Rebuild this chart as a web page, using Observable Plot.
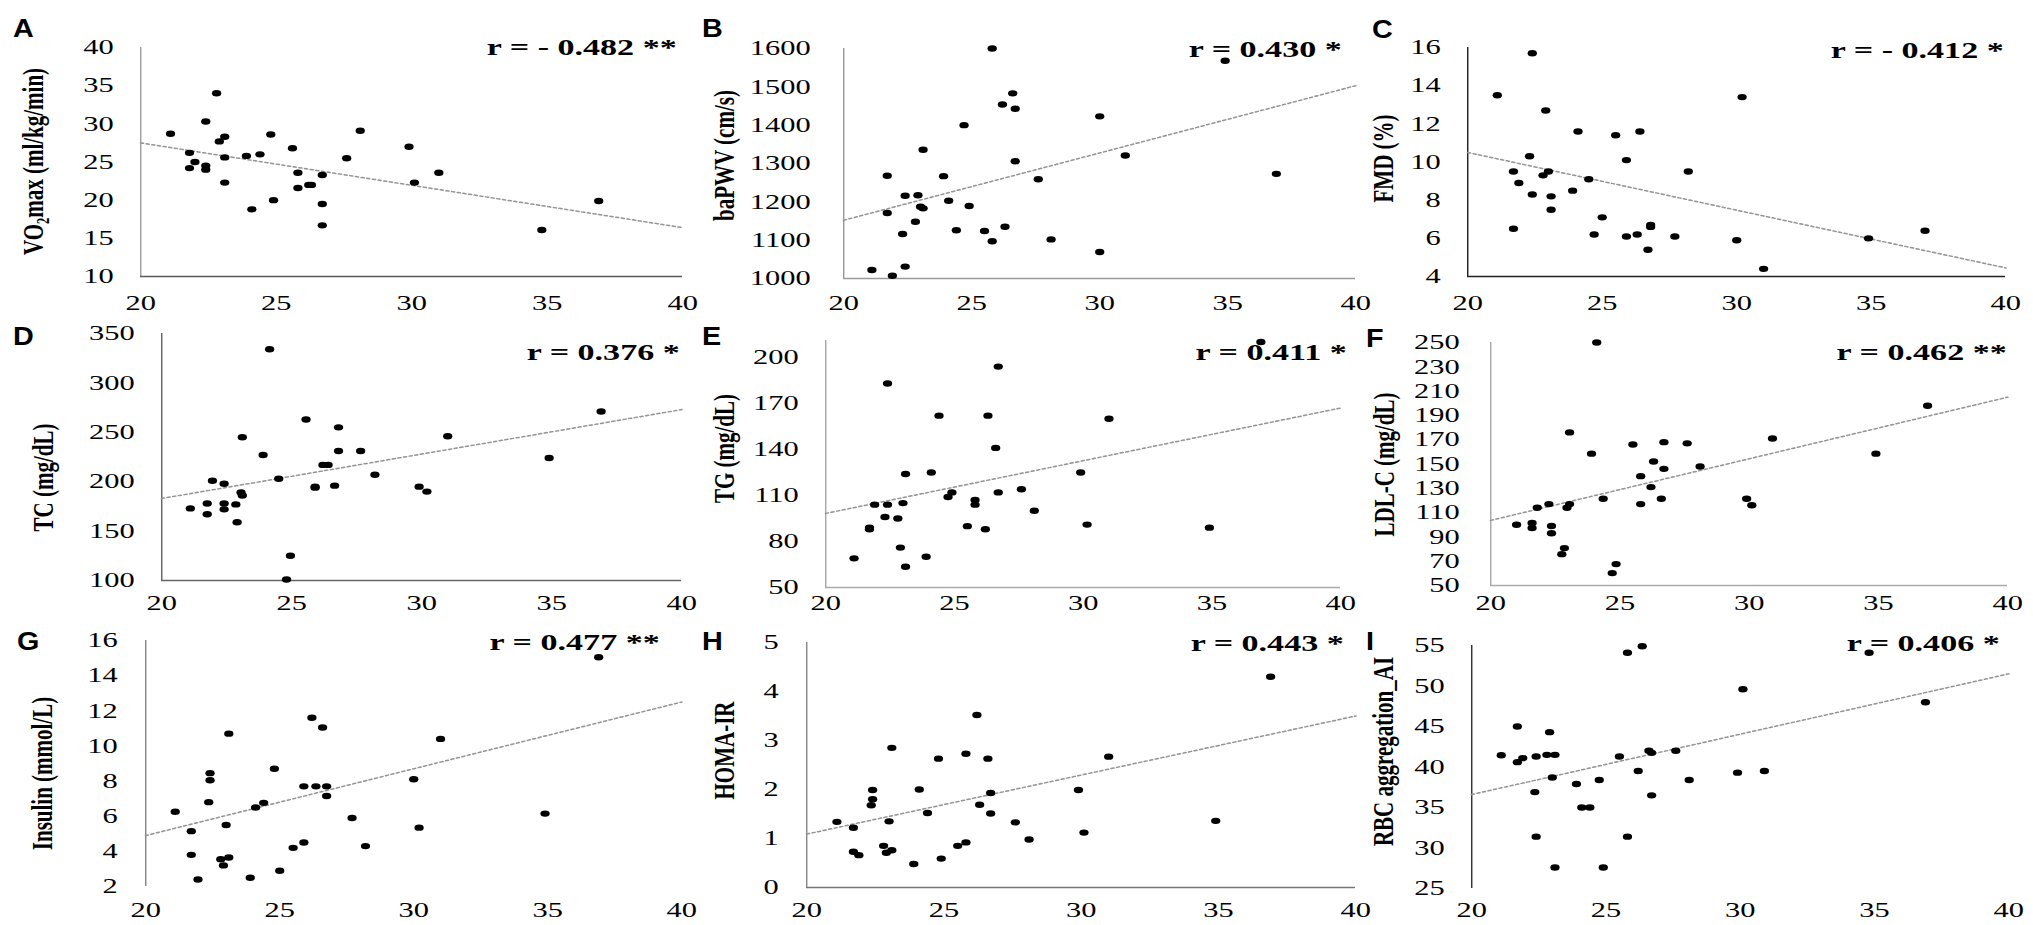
<!DOCTYPE html>
<html><head><meta charset="utf-8">
<script src="https://cdn.jsdelivr.net/npm/d3@7"></script>
<script src="https://cdn.jsdelivr.net/npm/@observablehq/plot@0.6"></script>
<style>
body{margin:0;background:#fff;}
#fig{position:relative;width:2033px;height:925px;overflow:hidden;background:#fff;}
.cell{position:absolute;}
.cell svg{overflow:visible;}
#letters{position:absolute;left:0;top:0;pointer-events:none;}
</style></head><body><div id="fig"></div>
<script>
// ---------- data ----------
const xTicks = [20, 25, 30, 35, 40];
const trendX = [20, 40];

const aX = [21.1,21.8,22.0,21.8,22.4,22.4,22.4,22.8,22.9,23.1,23.1,23.1,23.9,24.1,24.4,24.8,24.9,25.6,25.8,25.8,26.2,26.3,26.7,26.7,26.7,27.6,28.1,29.9,30.1,31.0,34.8,36.9];
const aY = [28.7,26.2,25.0,24.2,30.3,24.5,24.0,34.0,27.7,28.3,25.6,22.3,25.8,18.8,26.0,28.6,20.0,26.8,23.6,21.6,22.0,22.0,23.3,19.5,16.7,25.5,29.1,27.0,22.3,23.6,16.1,19.9];
const aTicks = [10,15,20,25,30,35,40];
const aTrend = [27.5, 16.4];

const bX = [25.8,34.9,26.6,26.2,26.7,30.0,24.7,23.1,31.0,26.7,21.7,23.9,36.9,27.6,22.4,22.9,24.1,23.0,23.1,24.9,21.7,22.8,22.3,24.4,25.5,26.3,25.8,28.1,21.1,21.9,22.4,30.0];
const bY = [1600,1568,1483,1454,1443,1423,1400,1336,1321,1306,1268,1267,1273,1259,1216,1217,1203,1187,1183,1189,1171,1148,1116,1126,1124,1135,1097,1102,1022,1007,1031,1069];
const bTicks = [1000,1100,1200,1300,1400,1500,1600];
const bTrend = [1152, 1503];

const cX = [22.4,21.1,30.2,22.9,24.1,25.5,26.4,22.3,25.9,21.7,22.8,23.0,28.2,21.9,24.5,22.4,23.9,23.1,23.1,25.0,21.7,26.8,26.8,24.7,25.9,26.3,27.7,30.0,34.9,37.0,26.7,31.0];
const cY = [15.7,13.5,13.4,12.7,11.6,11.4,11.6,10.3,10.1,9.5,9.3,9.5,9.5,8.9,9.1,8.3,8.5,8.2,7.5,7.1,6.5,6.7,6.6,6.2,6.1,6.2,6.1,5.9,6.0,6.4,5.4,4.4];
const cTicks = [4,6,8,10,12,14,16];
const cTrend = [10.5, 4.45];

const dX = [24.15,25.55,26.8,23.1,31.0,23.9,26.8,27.65,36.9,34.9,26.2,26.4,28.2,24.5,21.95,22.4,25.9,25.9,26.65,29.9,30.2,23.05,23.1,21.1,21.75,22.4,22.4,22.85,21.75,22.9,24.95,24.8];
const dY = [334,263,255,245,246,227,231,231,271,224,217,217,207,203,201,198,195,194,196,195,190,189,186,173,178,178,172,177,167,159,125,101];
const dTicks = [100,150,200,250,300,350];
const dTrend = [183, 273];

const eX = [36.9,26.7,22.4,24.4,26.3,31.0,26.6,23.1,24.1,29.9,27.6,24.9,26.7,24.75,25.8,25.8,21.9,22.4,23.0,28.1,22.3,22.8,21.7,21.7,25.5,26.2,30.15,34.9,22.9,23.9,21.1,23.1];
const eY = [210,194,183,162,162,160,141,124,125,125,114,112,112,109,107,104,104,104,105,100,96,95,89,88,90,88,91,89,76,70,69,63.5];
const eTicks = [50,80,110,140,170,200];
const eTrend = [98.3, 167];

const fX = [24.1,36.9,23.05,30.9,26.7,25.5,27.6,23.9,34.9,26.3,28.1,26.7,25.8,26.2,24.35,26.6,29.9,30.1,25.8,23.05,22.95,21.8,22.25,21.0,21.6,21.6,22.35,22.35,22.85,22.75,24.85,24.7];
const fY = [250,198,176,171,168,166,167,158.5,158.5,152,148,146,140,131,121.4,121.4,121.4,116,117,117,114,114,117,100,101.4,97.3,99,93,80.8,75.8,67.6,60.2];
const fTicks = [50,70,90,110,130,150,170,190,210,230,250];
const fTrend = [103.6, 205];

const gX = [36.9,26.2,26.6,23.1,31.0,24.8,22.4,22.4,30.0,25.9,26.35,26.75,26.75,22.35,24.4,24.1,21.1,34.9,27.7,23.0,30.2,21.7,25.9,25.5,28.2,21.7,22.8,23.1,22.9,25.0,23.9,21.95];
const gY = [15.05,11.6,11.05,10.7,10.4,8.7,8.45,8.05,8.1,7.7,7.7,7.7,7.15,6.8,6.76,6.5,6.25,6.15,5.9,5.5,5.35,5.15,4.5,4.2,4.3,3.8,3.55,3.65,3.2,2.9,2.5,2.4];
const gTicks = [2,4,6,8,10,12,14,16];
const gTrend = [4.9, 12.5];

const hX = [36.9,26.2,23.1,24.8,25.8,26.6,31.0,22.4,24.1,29.9,26.7,22.4,22.35,26.3,24.4,26.7,21.1,23.0,34.9,27.6,21.7,30.1,28.1,25.8,25.5,22.8,23.1,22.9,21.7,21.9,24.9,23.9];
const hY = [4.30,3.52,2.85,2.63,2.73,2.63,2.67,1.99,2.0,1.99,1.93,1.80,1.68,1.69,1.52,1.51,1.34,1.35,1.36,1.33,1.22,1.12,0.98,0.92,0.85,0.85,0.76,0.71,0.73,0.66,0.59,0.48];
const hTicks = [0,1,2,3,4,5];
const hTrend = [1.09, 3.5];

const iX = [26.35,25.8,34.8,30.1,36.9,21.7,22.9,21.1,22.8,23.1,22.4,21.9,21.7,25.5,26.6,26.7,27.6,26.2,29.9,30.9,23.0,24.75,28.1,23.9,22.35,26.7,24.1,24.4,22.4,25.8,23.1,24.9];
const iY = [54.9,54.1,54.1,49.6,48.0,45.0,44.3,41.45,41.5,41.5,41.3,41.1,40.6,41.3,42.0,41.75,42.0,39.5,39.3,39.5,38.7,38.4,38.4,37.9,36.9,36.5,35.0,35.0,31.4,31.4,27.6,27.6];
const iTicks = [25,30,35,40,45,50,55];
const iTrend = [36.6, 51.5];

const yLabels = ["VO₂max (ml/kg/min)","baPWV (cm/s)","FMD (%)","TC (mg/dL)","TG (mg/dL)","LDL-C (mg/dL)","Insulin (mmol/L)","HOMA-IR","RBC aggregation_AI"];
const rLabels = ["r = - 0.482 **","r = 0.430 *","r = - 0.412 *","r = 0.376 *","r = 0.411 *","r = 0.462 **","r = 0.477 **","r = 0.443 *","r = 0.406 *"];
const letters = ["A","B","C","D","E","F","G","H","I"];

// ---------- layout (true pixels) ----------
const K = 1.45; // horizontal stretch of the original figure
const panels = [
 {xs:aX, ys:aY, yDomain:[10,40],     yTicks:aTicks, trend:aTrend, xAxis:"#5a5a5a", yAxis:"#a0a0a0",
  x0:0,   x1:690,  y0:0,   y1:320, pL:140,  pR:682,  pT:47,  pB:276, tg:27, xg:27, lab:[33,161],   rp:[676,47],   lp:[13,37]},
 {xs:bX, ys:bY, yDomain:[1000,1600], yTicks:bTicks, trend:bTrend, xAxis:"#9a9a9a", yAxis:"#9a9a9a",
  x0:690, x1:1365, y0:0,   y1:320, pL:843,  pR:1355, pT:48,  pB:278, tg:33, xg:25, lab:[724,155],  rp:[1341,49],  lp:[702,37]},
 {xs:cX, ys:cY, yDomain:[4,16],      yTicks:cTicks, trend:cTrend, xAxis:"#222", yAxis:"#222",
  x0:1365,x1:2033, y0:0,   y1:320, pL:1467, pR:2005, pT:47,  pB:276, tg:27, xg:27, lab:[1383,158], rp:[2003,50],  lp:[1372,38]},
 {xs:dX, ys:dY, yDomain:[100,350],   yTicks:dTicks, trend:dTrend, xAxis:"#666", yAxis:"#666",
  x0:0,   x1:690,  y0:310, y1:625, pL:161,  pR:681,  pT:333, pB:580, tg:27, xg:23, lab:[43,477],   rp:[679,352],  lp:[13,345]},
 {xs:eX, ys:eY, yDomain:[50,211],    yTicks:eTicks, trend:eTrend, xAxis:"#aaa", yAxis:"#aaa",
  x0:690, x1:1365, y0:310, y1:625, pL:825,  pR:1340, pT:340, pB:587, tg:27, xg:16, lab:[724,448],  rp:[1346,352], lp:[702,345]},
 {xs:fX, ys:fY, yDomain:[50,250],    yTicks:fTicks, trend:fTrend, xAxis:"#aaa", yAxis:"#aaa",
  x0:1365,x1:2033, y0:310, y1:625, pL:1490, pR:2007, pT:342, pB:585, tg:31, xg:18, lab:[1384,464], rp:[2006,352], lp:[1366,347]},
 {xs:gX, ys:gY, yDomain:[2,16],      yTicks:gTicks, trend:gTrend, xAxis:null,   yAxis:"#888",
  x0:0,   x1:690,  y0:615, y1:925, pL:145,  pR:681,  pT:640, pB:886, tg:28, xg:24, lab:[42,773],   rp:[659,642],  lp:[17,650]},
 {xs:hX, ys:hY, yDomain:[0,5],       yTicks:hTicks, trend:hTrend, xAxis:"#777", yAxis:"#888",
  x0:690, x1:1365, y0:615, y1:925, pL:806,  pR:1355, pT:642, pB:887, tg:28, xg:23, lab:[724,750],  rp:[1343,643], lp:[702,650]},
 {xs:iX, ys:iY, yDomain:[25,55],     yTicks:iTicks, trend:iTrend, xAxis:null,   yAxis:"#333",
  x0:1365,x1:2033, y0:615, y1:925, pL:1471, pR:2008, pT:645, pB:888, tg:27, xg:22, lab:[1383,751], rp:[1999,643], lp:[1366,650]}
];

const fig = document.getElementById("fig");
const FONT = '"Liberation Serif", "Times New Roman", "DejaVu Serif", serif';
const FS = 21;

panels.forEach((p, i) => {
  const W = p.x1 - p.x0, H = p.y1 - p.y0;
  const w = W / K;
  const pts = p.xs.map((x, j) => ({x, y: p.ys[j]}));
  const tr = trendX.map((x, j) => ({x, y: p.trend[j]}));
  const marks = [
    Plot.ruleX([20], {stroke: p.yAxis, strokeWidth: 1}),
  ];
  if (p.xAxis) marks.push(Plot.ruleY([p.yDomain[0]], {stroke: p.xAxis, strokeWidth: 1.3}));
  marks.push(
    Plot.axisY({ticks: p.yTicks, tickSize: 0, tickPadding: p.tg / K, tickFormat: d => String(d), label: null, fontSize: FS}),
    Plot.axisX({ticks: xTicks, tickSize: 0, tickPadding: p.xg - 8, tickFormat: d => String(d), label: null, fontSize: FS}),
    Plot.line(tr, {x: "x", y: "y", stroke: "#959595", strokeWidth: 1.5, strokeDasharray: "1.8,2.2"}),
    Plot.dot(pts, {x: "x", y: "y", r: 3.2, fill: "#000", stroke: "none"}),
    Plot.text([yLabels[i]], {text: d => d, frameAnchor: "top-left", dx: (p.lab[0] - p.pL) / K, dy: p.lab[1] - p.pT,
      rotate: -90, textAnchor: "middle", lineAnchor: "middle", fontWeight: "bold", fontSize: FS, fill: "#000"}),
    Plot.text([rLabels[i]], {text: d => d, frameAnchor: "top-right", dx: (p.rp[0] - p.pR) / K, dy: p.rp[1] - p.pT,
      textAnchor: "end", lineAnchor: "middle", fontWeight: "bold", fontSize: 23.5, fill: "#000"})
  );
  const svg = Plot.plot({
    width: w, height: H,
    marginLeft: (p.pL - p.x0) / K, marginRight: (p.x1 - p.pR) / K,
    marginTop: p.pT - p.y0, marginBottom: p.y1 - p.pB,
    x: {domain: [20, 40]},
    y: {domain: p.yDomain},
    style: {fontFamily: FONT, fontSize: FS + "px", color: "#000", background: "transparent", overflow: "visible"},
    marks
  });
  svg.setAttribute("preserveAspectRatio", "none");
  svg.setAttribute("width", W);
  svg.setAttribute("height", H);
  svg.style.width = W + "px";
  svg.style.height = H + "px";
  const cell = document.createElement("div");
  cell.className = "cell";
  cell.style.left = p.x0 + "px";
  cell.style.top = p.y0 + "px";
  cell.style.width = W + "px";
  cell.style.height = H + "px";
  cell.appendChild(svg);
  fig.appendChild(cell);
});

// panel letters
const ov = d3.select("#fig").append("svg").attr("id", "letters").attr("width", 2033).attr("height", 925);
ov.selectAll("text").data(panels).join("text")
  .attr("transform", p => `translate(${p.lp[0]},${p.lp[1]}) scale(1.15,1)`)
  .attr("font-family", '"Liberation Sans", Arial, sans-serif')
  .attr("font-weight", "bold").attr("font-size", 25).attr("fill", "#000")
  .text((p, i) => letters[i]);
</script>
</body></html>
